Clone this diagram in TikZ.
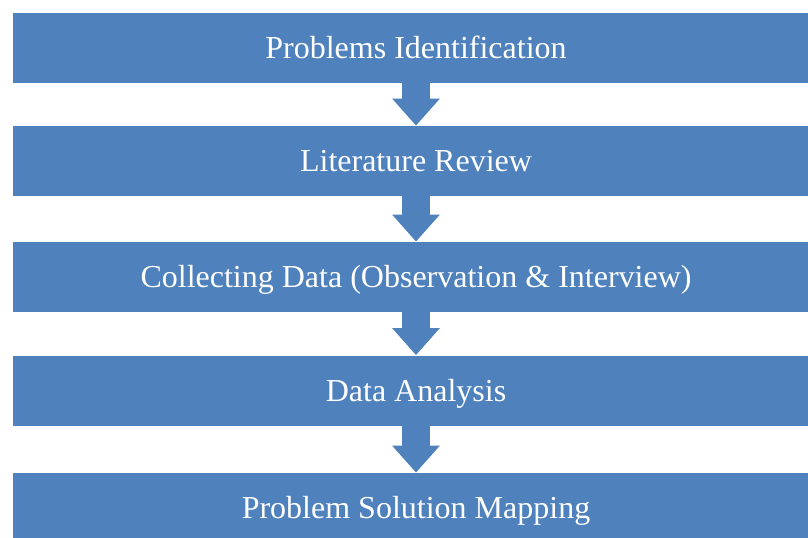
\documentclass[tikz,border=0pt]{standalone}
\usepackage{fontspec}
\setmainfont{Liberation Serif}
\usetikzlibrary{arrows.meta, positioning}
\definecolor{stepblue}{RGB}{79, 129, 189}

\begin{document}
\begin{tikzpicture}[x=0.5pt, y=-0.5pt,
  stage/.style={fill=stepblue, text=white, minimum width=403.5pt, minimum height=35pt,
    inner sep=0pt, text height=10.6pt, text depth=0pt, font=\fontsize{16}{19}\selectfont},
  flowarrow/.style={draw=stepblue, line width=14pt, -{Triangle[width=23pt, length=13.5pt]}}]
  \useasboundingbox (0,0) rectangle (808,537);
  \clip (0,0) rectangle (808,537);

  % Stages
  \node[stage] (problems) at (416, 48) {Problems Identification};
  \node[stage] (literature) at (416, 161) {Literature Review};
  \node[stage] (collecting) at (416, 277) {Collecting Data (Observation \& Interview)};
  \node[stage] (analysis) at (416, 390.5) {Data Analysis};
  \node[stage] (mapping) at (416, 508) {Problem Solution Mapping};

  % Arrows between stages
  \draw[flowarrow] (problems) -- (literature);
  \draw[flowarrow] (literature) -- (collecting);
  \draw[flowarrow] (collecting) -- (analysis);
  \draw[flowarrow] (analysis) -- (mapping);
\end{tikzpicture}
\end{document}
